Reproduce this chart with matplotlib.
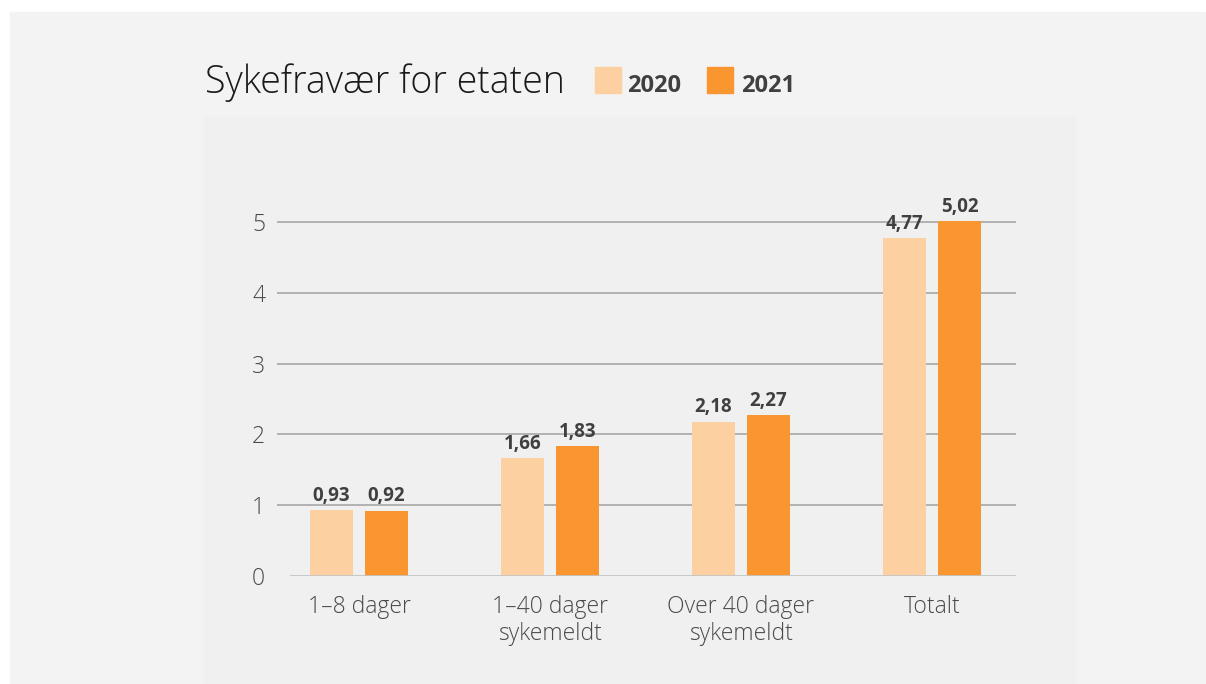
import matplotlib.pyplot as plt
from matplotlib.patches import Rectangle
import numpy as np

categories = ['1–8 dager', '1–40 dager\nsykemeldt', 'Over 40 dager\nsykemeldt', 'Totalt']
years = ['2020', '2021']
v2020 = [0.93, 1.66, 2.18, 4.77]
v2021 = [0.92, 1.83, 2.27, 5.02]
colors = ['#FCD0A1', '#F9962F']

W, H = 1206, 684
fig = plt.figure(figsize=(W / 100, H / 100), dpi=100, facecolor='white')

# background panels (pixel coords converted to figure fraction)
def px(x0, y0, x1, y1, color):
    fig.patches.append(Rectangle((x0 / W, 1 - y1 / H), (x1 - x0) / W, (y1 - y0) / H,
                                 transform=fig.transFigure, color=color, zorder=-10))

px(10, 12, 1205, 684, '#F3F3F3')
px(204, 117, 1075, 684, '#F0F0F0')

# axes: x from 277px to 1016px, y0 at 575.7px, 70.7px per unit, ylim 0..6
ax = fig.add_axes([277 / W, (H - 575.7) / H, (1016 - 277) / W, 6 * 70.7 / H])
ax.set_facecolor('none')
ax.set_ylim(0, 6)
ax.set_xlim(-0.429, 3.44)

x = np.arange(len(categories))
bw = 0.225
off = 0.144
b1 = ax.bar(x - off, v2020, bw, color=colors[0], zorder=3)
b2 = ax.bar(x + off, v2021, bw, color=colors[1], zorder=3)

for bars, vals in ((b1, v2020), (b2, v2021)):
    for b, v in zip(bars, vals):
        ax.annotate(f'{v:.2f}'.replace('.', ','), (b.get_x() + b.get_width() / 2, v),
                    xytext=(0, 3), textcoords='offset points', ha='center', va='bottom',
                    fontsize=13.5, fontweight='bold', color='#404040', family='Open Sans')

for yv in range(1, 6):
    ax.axhline(yv, color='#ADADAD', lw=1.3, zorder=1)
ax.axhline(0, xmin=(291 - 277) / (1016 - 277), xmax=1, color='#C4C4C4', lw=2, zorder=4)

for s in ax.spines.values():
    s.set_visible(False)
ax.set_yticks(range(0, 6))
ax.set_yticklabels([str(i) for i in range(0, 6)])
ax.set_xticks(x)
ax.set_xticklabels(categories, linespacing=1.15)
ax.tick_params(length=0, labelsize=16.5)
ax.tick_params(axis='y', pad=8.5)
ax.tick_params(axis='x', pad=14)
for t in ax.get_xticklabels() + ax.get_yticklabels():
    t.set_family('Open Sans')
    t.set_fontweight('light')
    t.set_color('#4A4A4A')

# title and legend
fig.text(205 / W, 1 - 93 / H, 'Sykefravær for etaten', fontsize=27, color='#1A1A1A',
         family='Open Sans', fontweight='light', va='baseline', ha='left')
for sx, tx, c, lab in ((595, 627, colors[0], years[0]), (707, 741, colors[1], years[1])):
    fig.patches.append(Rectangle((sx / W, 1 - 93 / H), 26 / W, 26 / H,
                                 transform=fig.transFigure, color=c, zorder=2))
    fig.text(tx / W, 1 - 92 / H, lab, fontsize=17, fontweight='bold', color='#404040',
             family='Open Sans', va='baseline', ha='left')

fig.savefig('out.png', dpi=100, facecolor='white')
